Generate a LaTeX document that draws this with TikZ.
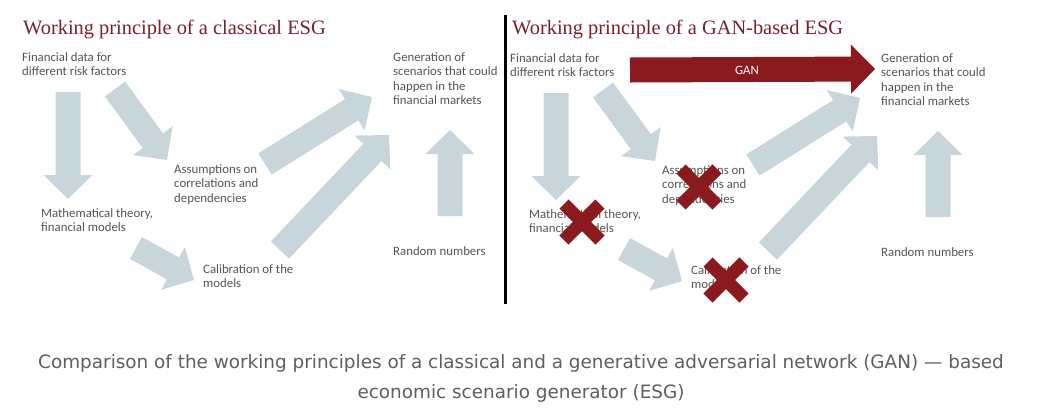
\documentclass[tikz,border=0pt]{standalone}
\usepackage{fontspec}
\setmainfont{Carlito}
\newfontfamily\titlefont{Liberation Serif}
\newfontfamily\captionfont{DejaVu Sans}
\usetikzlibrary{calc}
\definecolor{flowgrey}{RGB}{200,214,219}
\definecolor{ganred}{RGB}{138,26,30}
\definecolor{titlered}{RGB}{122,32,44}
\definecolor{textgrey}{RGB}{85,85,85}
\definecolor{captiongrey}{RGB}{95,95,95}
\def\drawcross{\draw[color=ganred, line width=13pt]}
% block arrow: colour, tail, tip
\def\flowarrow#1#2#3{%
\coordinate (head_base) at ($ (#3)!24pt!(#2) $);
\fill[#1] ($ (#2)!12.5pt!90:(#3) $) -- ($ (head_base)!12.5pt!90:(#3) $) -- ($ (head_base)!24.5pt!90:(#3) $) -- (#3)
  -- ($ (head_base)!24.5pt!-90:(#3) $) -- ($ (head_base)!12.5pt!-90:(#3) $) -- ($ (#2)!12.5pt!-90:(#3) $) -- cycle;}

\begin{document}
\begin{tikzpicture}[x=1pt,y=-1pt,inner sep=0pt,
  txt/.style={anchor=north west, align=left, text=textgrey, font=\fontsize{12.8}{14.6}\selectfont},
  heading/.style={anchor=base west, text=titlered, font=\titlefont\fontsize{20.4}{24}\selectfont}]
\useasboundingbox[fill=white] (0,0) rectangle (1045,416);

% -------- classical ESG LEFT ---------
% Everything is relative to (o), the top left corner of the panel.
\coordinate (o) at (0,0);
\coordinate (down_tail) at ($ (o) + (68,92) $);
\coordinate (down_tip) at ($ (o) + (68,199) $);
\coordinate (diag_tail) at ($ (o) + (115,89) $);
\coordinate (diag_tip) at ($ (o) + (167,160) $);
\coordinate (calib_tail) at ($ (o) + (136,248) $);
\coordinate (calib_tip) at ($ (o) + (194,280) $);
\coordinate (assum_tail) at ($ (o) + (265,164) $);
\coordinate (assum_tip) at ($ (o) + (372,97) $);
\coordinate (gen_tail) at ($ (o) + (280,250) $);
\coordinate (gen_tip) at ($ (o) + (389,135) $);
\coordinate (up_tail) at ($ (o) + (450,216) $); % bottom of the random numbers arrow
\coordinate (up_tip) at ($ (o) + (450,130) $);
\flowarrow{flowgrey}{down_tail}{down_tip}
\flowarrow{flowgrey}{diag_tail}{diag_tip}
\flowarrow{flowgrey}{calib_tail}{calib_tip}
\flowarrow{flowgrey}{assum_tail}{assum_tip}
\flowarrow{flowgrey}{gen_tail}{gen_tip}
\flowarrow{flowgrey}{up_tail}{up_tip}
\node[heading] (classic_title) at ($ (o) + (23,34) $) {Working principle of a classical ESG};
\node[txt] (fin_data) at ($ (o) + (22,52) $) {Financial data for\\different risk factors};
\node[txt] (assumptions) at ($ (o) + (174,164) $) {Assumptions on\\correlations and\\dependencies};
\node[txt] (math_theory) at ($ (o) + (41,208) $) {Mathematical theory,\\financial models};
\node[txt] (calibration) at ($ (o) + (203,264) $) {Calibration of the\\models};
\node[txt] (generation) at ($ (o) + (393,52) $) {Generation of\\scenarios that could\\happen in the\\financial markets};
\node[txt] (random) at ($ (o) + (393,246) $) {Random numbers};
% ------ end classical ESG ------

\coordinate (divider_top) at (505,15);
\coordinate (divider_bottom) at (505,304);
\draw[line width=3pt] (divider_top) -- (divider_bottom);

% -------- GAN-based ESG RIGHT ---------
% Same layout as the left panel, shifted by (o).
\coordinate (o) at (488,1);
\coordinate (down_tail) at ($ (o) + (68,92) $);
\coordinate (down_tip) at ($ (o) + (68,199) $);
\coordinate (diag_tail) at ($ (o) + (115,89) $);
\coordinate (diag_tip) at ($ (o) + (167,160) $);
\coordinate (calib_tail) at ($ (o) + (136,248) $);
\coordinate (calib_tip) at ($ (o) + (194,280) $);
\coordinate (assum_tail) at ($ (o) + (265,164) $);
\coordinate (assum_tip) at ($ (o) + (372,97) $);
\coordinate (gen_tail) at ($ (o) + (280,250) $);
\coordinate (gen_tip) at ($ (o) + (389,135) $);
\coordinate (up_tail) at ($ (o) + (450,216) $);
\coordinate (up_tip) at ($ (o) + (450,130) $);
\coordinate (gan_tail) at ($ (o) + (142,69) $); % the red shortcut
\coordinate (gan_tip) at ($ (o) + (387,68) $);
\flowarrow{flowgrey}{down_tail}{down_tip}
\flowarrow{flowgrey}{diag_tail}{diag_tip}
\flowarrow{flowgrey}{calib_tail}{calib_tip}
\flowarrow{flowgrey}{assum_tail}{assum_tip}
\flowarrow{flowgrey}{gen_tail}{gen_tip}
\flowarrow{flowgrey}{up_tail}{up_tip}
\flowarrow{ganred}{gan_tail}{gan_tip}
\node[text=white, font=\fontsize{12.8}{14}\selectfont] (gan_label) at ($ (o) + (259,69) $) {GAN};
\node[heading] (gan_title) at ($ (o) + (24,33) $) {Working principle of a GAN-based ESG};
\node[txt] (right_fin_data) at ($ (o) + (22,52) $) {Financial data for\\different risk factors};
\node[txt] (right_assumptions) at ($ (o) + (174,164) $) {Assumptions on\\correlations and\\dependencies};
\node[txt] (right_math_theory) at ($ (o) + (41,208) $) {Mathematical theory,\\financial models};
\node[txt] (right_calibration) at ($ (o) + (203,264) $) {Calibration of the\\models};
\node[txt] (right_generation) at ($ (o) + (393,52) $) {Generation of\\scenarios that could\\happen in the\\financial markets};
\node[txt] (right_random) at ($ (o) + (393,246) $) {Random numbers};
% the crossed out steps
\coordinate (cross_math) at ($ (o) + (94,221) $);
\coordinate (cross_assum) at ($ (o) + (211,186) $);
\coordinate (cross_calib) at ($ (o) + (238,279) $);
\drawcross (cross_math) ++(-18,-18) -- ++(36,36) (cross_math) ++(-18,18) -- ++(36,-36);
\drawcross (cross_assum) ++(-18,-18) -- ++(36,36) (cross_assum) ++(-18,18) -- ++(36,-36);
\drawcross (cross_calib) ++(-18,-18) -- ++(36,36) (cross_calib) ++(-18,18) -- ++(36,-36);
% ------ end GAN-based ESG ------

\node[align=center, text=captiongrey, font=\captionfont\fontsize{18.4}{30}\selectfont] (caption) at (521,378)
  {Comparison of the working principles of a classical and a generative adversarial network (GAN) — based\\economic scenario generator (ESG)};
\end{tikzpicture}
\end{document}
